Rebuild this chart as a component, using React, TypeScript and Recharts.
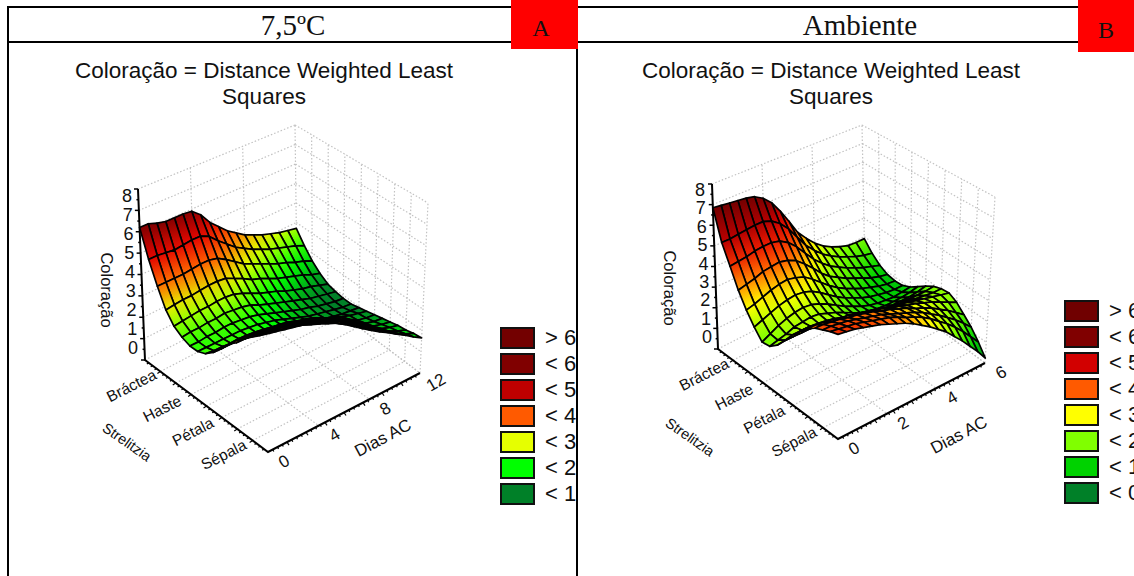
import { ScatterChart, Scatter, XAxis, YAxis } from 'recharts';

// Coloração read off the two surfaces: one row per 1/16 of the structure axis
// (Bráctea first, Sépala last), one column per 1/18 of the days axis.
const surfaceA = [
  [6.2, 6.2, 6.05, 5.95, 5.95, 5.95, 5.9, 5.55, 5.0, 4.6, 4.2, 3.9, 3.6, 3.4, 3.2, 3.05, 2.9, 2.8, 2.7],
  [4.95, 4.95, 4.9, 4.85, 4.9, 4.95, 4.95, 4.75, 4.35, 4.0, 3.65, 3.4, 3.15, 2.95, 2.75, 2.6, 2.45, 2.3, 2.1],
  [3.95, 3.95, 3.95, 3.95, 4.0, 4.05, 4.05, 3.95, 3.7, 3.4, 3.1, 2.9, 2.7, 2.5, 2.3, 2.15, 1.95, 1.8, 1.6],
  [3.1, 3.15, 3.2, 3.2, 3.25, 3.3, 3.3, 3.25, 3.05, 2.85, 2.6, 2.45, 2.25, 2.05, 1.9, 1.75, 1.6, 1.4, 1.25],
  [2.6, 2.65, 2.7, 2.75, 2.75, 2.8, 2.8, 2.75, 2.6, 2.4, 2.2, 2.05, 1.9, 1.7, 1.55, 1.4, 1.3, 1.15, 1.0],
  [2.35, 2.4, 2.4, 2.45, 2.45, 2.5, 2.45, 2.4, 2.3, 2.1, 1.95, 1.8, 1.65, 1.5, 1.35, 1.2, 1.1, 1.0, 0.9],
  [2.2, 2.2, 2.25, 2.25, 2.3, 2.3, 2.25, 2.2, 2.1, 1.95, 1.8, 1.65, 1.5, 1.35, 1.25, 1.1, 1.0, 0.9, 0.85],
  [2.2, 2.2, 2.2, 2.2, 2.2, 2.2, 2.15, 2.1, 2.0, 1.9, 1.75, 1.6, 1.45, 1.3, 1.2, 1.1, 1.0, 0.9, 0.85],
  [2.35, 2.3, 2.3, 2.25, 2.25, 2.2, 2.15, 2.1, 2.0, 1.9, 1.8, 1.65, 1.5, 1.4, 1.25, 1.15, 1.05, 1.0, 0.95],
  [2.65, 2.65, 2.65, 2.65, 2.65, 2.6, 2.55, 2.5, 2.45, 2.35, 2.2, 2.1, 1.95, 1.75, 1.55, 1.4, 1.25, 1.15, 1.05],
  [3.05, 3.1, 3.13, 3.12, 3.08, 3.02, 2.95, 2.87, 2.76, 2.66, 2.55, 2.38, 2.2, 2.0, 1.82, 1.55, 1.3, 1.2, 1.15],
  [3.5, 3.5, 3.49, 3.45, 3.4, 3.32, 3.22, 3.14, 3.05, 2.92, 2.78, 2.62, 2.44, 2.2, 1.96, 1.68, 1.42, 1.3, 1.25],
  [3.8, 3.8, 3.8, 3.75, 3.7, 3.62, 3.53, 3.44, 3.33, 3.18, 3.0, 2.85, 2.67, 2.4, 2.1, 1.8, 1.55, 1.43, 1.35],
  [4.2, 4.16, 4.12, 4.06, 3.99, 3.91, 3.81, 3.69, 3.55, 3.4, 3.23, 3.02, 2.78, 2.5, 2.22, 1.95, 1.7, 1.55, 1.45],
  [4.52, 4.48, 4.43, 4.35, 4.26, 4.18, 4.09, 3.93, 3.77, 3.62, 3.45, 3.18, 2.89, 2.62, 2.36, 2.1, 1.84, 1.65, 1.5],
  [4.81, 4.76, 4.7, 4.62, 4.53, 4.42, 4.3, 4.15, 3.99, 3.78, 3.56, 3.3, 3.02, 2.76, 2.51, 2.25, 2.0, 1.78, 1.6],
  [5.12, 5.05, 4.97, 4.89, 4.82, 4.66, 4.52, 4.36, 4.21, 3.96, 3.69, 3.41, 3.15, 2.9, 2.67, 2.41, 2.17, 1.9, 1.65],
];

const surfaceB = [
  [6.85, 6.8, 6.75, 6.7, 6.65, 6.55, 6.3, 5.9, 5.3, 4.6, 3.85, 3.35, 2.9, 2.55, 2.3, 2.1, 1.95, 1.9, 1.9],
  [5.4, 5.4, 5.45, 5.5, 5.55, 5.55, 5.4, 5.1, 4.65, 4.05, 3.45, 3.0, 2.6, 2.3, 2.05, 1.85, 1.65, 1.5, 1.4],
  [4.5, 4.55, 4.6, 4.7, 4.75, 4.75, 4.65, 4.4, 4.0, 3.5, 3.0, 2.6, 2.25, 2.0, 1.75, 1.55, 1.35, 1.2, 1.05],
  [3.6, 3.7, 3.8, 3.95, 4.0, 4.05, 3.95, 3.75, 3.4, 3.0, 2.55, 2.2, 1.95, 1.7, 1.5, 1.3, 1.1, 0.95, 0.85],
  [2.9, 3.0, 3.15, 3.3, 3.4, 3.45, 3.35, 3.2, 2.9, 2.55, 2.2, 1.9, 1.65, 1.45, 1.25, 1.1, 0.95, 0.85, 0.8],
  [2.35, 2.5, 2.65, 2.8, 2.9, 2.95, 2.9, 2.75, 2.5, 2.2, 1.9, 1.65, 1.45, 1.25, 1.1, 1.0, 0.9, 0.85, 0.85],
  [1.9, 2.1, 2.3, 2.45, 2.55, 2.6, 2.55, 2.4, 2.2, 1.95, 1.7, 1.5, 1.3, 1.15, 1.05, 1.0, 0.95, 1.0, 1.05],
  [1.95, 2.05, 2.15, 2.3, 2.35, 2.4, 2.35, 2.2, 2.05, 1.85, 1.65, 1.45, 1.35, 1.25, 1.2, 1.2, 1.2, 1.25, 1.35],
  [2.25, 2.3, 2.35, 2.4, 2.4, 2.35, 2.3, 2.2, 2.05, 1.9, 1.75, 1.65, 1.55, 1.5, 1.5, 1.5, 1.5, 1.55, 1.65],
  [2.7, 2.7, 2.7, 2.7, 2.65, 2.6, 2.5, 2.4, 2.3, 2.2, 2.05, 1.95, 1.9, 1.85, 1.85, 1.85, 1.85, 1.85, 1.9],
  [3.2, 3.2, 3.15, 3.1, 3.05, 3.0, 2.9, 2.8, 2.7, 2.6, 2.5, 2.4, 2.3, 2.25, 2.2, 2.15, 2.1, 2.05, 2.05],
  [3.6, 3.6, 3.55, 3.5, 3.45, 3.35, 3.3, 3.2, 3.1, 3.0, 2.9, 2.8, 2.7, 2.6, 2.5, 2.4, 2.3, 2.2, 2.1],
  [3.95, 3.95, 3.9, 3.85, 3.75, 3.7, 3.6, 3.5, 3.4, 3.3, 3.15, 3.05, 2.9, 2.8, 2.65, 2.5, 2.3, 2.1, 1.9],
  [4.2, 4.2, 4.15, 4.1, 4.0, 3.95, 3.85, 3.75, 3.6, 3.5, 3.35, 3.2, 3.0, 2.85, 2.65, 2.4, 2.15, 1.85, 1.55],
  [4.35, 4.35, 4.3, 4.25, 4.15, 4.05, 3.95, 3.85, 3.7, 3.55, 3.4, 3.25, 3.05, 2.8, 2.55, 2.25, 1.95, 1.6, 1.2],
  [4.5, 4.45, 4.4, 4.35, 4.25, 4.15, 4.05, 3.95, 3.8, 3.6, 3.45, 3.25, 3.0, 2.7, 2.4, 2.05, 1.65, 1.2, 0.75],
  [4.6, 4.55, 4.5, 4.4, 4.3, 4.2, 4.05, 3.9, 3.75, 3.55, 3.3, 3.05, 2.75, 2.45, 2.05, 1.65, 1.2, 0.75, 0.24],
];

const structures = ['Bráctea', 'Haste', 'Pétala', 'Sépala'];
const zTicks = [0, 1, 2, 3, 4, 5, 6, 7, 8];
const daysA = [0, 4, 8, 12];
const daysB = [0, 2, 4, 6];

const legendA = ['> 6', '< 6', '< 5', '< 4', '< 3', '< 2', '< 1'];
const legendColorsA = ['#730000', '#800000', '#be0000', '#ff5a00', '#e6ff00', '#00ff00', '#008028'];
const legendB = ['> 6', '< 6', '< 5', '< 4', '< 3', '< 2', '< 1', '< 0'];
const legendColorsB = ['#700000', '#800000', '#d20000', '#ff5a00', '#ffff00', '#80ff00', '#00d200', '#008028'];

// colour ramp: value, colour
const rampA: [number, number[]][] = [
  [1, [0, 128, 40]], [2, [0, 255, 0]], [3, [224, 255, 0]], [4, [255, 100, 0]],
  [5, [225, 0, 0]], [6, [130, 0, 0]], [7, [110, 0, 0]],
];
const rampB: [number, number[]][] = [
  [0, [0, 128, 40]], [1, [0, 210, 0]], [2, [128, 255, 0]], [3, [255, 255, 0]], [4, [255, 100, 0]],
  [5, [225, 0, 0]], [6, [130, 0, 0]], [7, [110, 0, 0]],
];

type Pt = [number, number];
type View = {
  L0: Pt; L8: Pt; B0: Pt; B8: Pt; F0: Pt; F8: Pt; R0: Pt; R8: Pt;
  z0: Pt; z8: Pt; dias: Pt; cor: Pt; strel: Pt;
  left: number; top: number; width: number; height: number;
};

// box corners on the page: L = Bráctea/day 0, B = Bráctea/last day, F = Sépala/day 0, R = Sépala/last day
const viewA: View = {
  L0: [145, 360], L8: [138, 189], B0: [297, 281], B8: [295, 125],
  F0: [268, 452], F8: [268, 267], R0: [420, 373], R8: [428, 203],
  z0: [133, 348], z8: [127, 196], dias: [383, 438], cor: [107, 290], strel: [127, 442],
  left: 60, top: 110, width: 400, height: 380,
};
const viewB: View = {
  L0: [718, 349], L8: [712, 184], B0: [865, 274], B8: [862, 125],
  F0: [838, 439], F8: [838, 257], R0: [985, 363], R8: [995, 197],
  z0: [707, 337], z8: [700, 190], dias: [959, 435], cor: [670, 288], strel: [690, 437],
  left: 640, top: 110, width: 390, height: 380,
};

const lerp = (a: number, b: number, k: number) => a + (b - a) * k;
const lerpPt = (a: Pt, b: Pt, k: number): Pt => [lerp(a[0], b[0], k), lerp(a[1], b[1], k)];

// u: 0..1 along days, t: 0..1 from Bráctea to Sépala, z: value on the 0..8 axis
function project(v: View, u: number, t: number, z: number) {
  const low = lerpPt(lerpPt(v.L0, v.B0, u), lerpPt(v.F0, v.R0, u), t);
  const high = lerpPt(lerpPt(v.L8, v.B8, u), lerpPt(v.F8, v.R8, u), t);
  const p = lerpPt(low, high, z / 8);
  return { x: p[0], y: p[1] };
}

function colorAt(ramp: [number, number[]][], z: number) {
  if (z <= ramp[0][0]) return `rgb(${ramp[0][1].join(',')})`;
  for (let i = 1; i < ramp.length; i++) {
    if (z <= ramp[i][0]) {
      const k = (z - ramp[i - 1][0]) / (ramp[i][0] - ramp[i - 1][0]);
      const c = ramp[i][1].map((b, n) => Math.round(lerp(ramp[i - 1][1][n], b, k)));
      return `rgb(${c.join(',')})`;
    }
  }
  return `rgb(${ramp[ramp.length - 1][1].join(',')})`;
}

// far cells first, so the nearer ones paint over them
function buildCells(v: View, surface: number[][], ramp: [number, number[]][], id: string) {
  const rows = surface.length - 1;
  const cols = surface[0].length - 1;
  const cells = [];
  for (let r = 0; r < rows; r++) {
    for (let c = cols - 1; c >= 0; c--) {
      const zs = [surface[r][c], surface[r][c + 1], surface[r + 1][c + 1], surface[r + 1][c]];
      const pts = [
        project(v, c / cols, r / rows, zs[0]),
        project(v, (c + 1) / cols, r / rows, zs[1]),
        project(v, (c + 1) / cols, (r + 1) / rows, zs[2]),
        project(v, c / cols, (r + 1) / rows, zs[3]),
      ];
      const x = (pts[0].x + pts[2].x) / 2;
      const y = (pts[0].y + pts[2].y) / 2;
      cells.push({
        x, y,
        id: `${id}-${r}-${c}`,
        pts: pts.map((p) => [p.x - x, p.y - y]),
        colorTop: colorAt(ramp, (zs[0] + zs[1]) / 2),
        colorBottom: colorAt(ramp, (zs[2] + zs[3]) / 2),
      });
    }
  }
  return cells;
}

function CellShape(props: any) {
  const { cx, cy, payload } = props;
  const p = payload.pts;
  const points = p.map((q: number[]) => `${cx + q[0]},${cy + q[1]}`).join(' ');
  return (
    <g>
      <defs>
        <linearGradient
          id={payload.id}
          gradientUnits="userSpaceOnUse"
          x1={cx + (p[0][0] + p[1][0]) / 2}
          y1={cy + (p[0][1] + p[1][1]) / 2}
          x2={cx + (p[2][0] + p[3][0]) / 2}
          y2={cy + (p[2][1] + p[3][1]) / 2}
        >
          <stop offset="0%" stopColor={payload.colorTop} />
          <stop offset="100%" stopColor={payload.colorBottom} />
        </linearGradient>
      </defs>
      <polygon points={points} fill={`url(#${payload.id})`} stroke="#000" strokeWidth={1.7} strokeLinejoin="round" />
    </g>
  );
}

const NoDot = () => <g />;

function TickShape(props: any) {
  const { cx, cy, payload } = props;
  return <line x1={cx} y1={cy} x2={cx + payload.dx} y2={cy + payload.dy} stroke="#000" strokeWidth={payload.w} />;
}

function LabelShape(props: any) {
  const { cx, cy, payload } = props;
  return (
    <text
      x={cx}
      y={cy}
      textAnchor="middle"
      dominantBaseline="central"
      fontFamily="Liberation Sans"
      fontSize={payload.size}
      fill="#111"
      transform={payload.angle ? `rotate(${payload.angle} ${cx} ${cy})` : undefined}
    >
      {payload.label}
    </text>
  );
}

function wallLines(v: View, days: number[]) {
  const lines: { x: number; y: number }[][] = [];
  zTicks.forEach((z) => {
    lines.push([project(v, 0, 0, z), project(v, 1, 0, z)]);
    lines.push([project(v, 1, 0, z), project(v, 1, 1, z)]);
  });
  days.slice(1).forEach((_, i) => {
    const u = (i + 1) / (days.length - 1);
    lines.push([project(v, u, 0, 0), project(v, u, 0, 8)]);
    lines.push([project(v, u, 0, 0), project(v, u, 1, 0)]);
  });
  for (let k = 1; k <= 8; k++) {
    lines.push([project(v, 1, k / 8, 0), project(v, 1, k / 8, 8)]);
    lines.push([project(v, 0, k / 8, 0), project(v, 1, k / 8, 0)]);
  }
  return lines;
}

function axisTicks(v: View) {
  const ticks = [];
  for (let i = 0; i <= 16; i++) {
    const major = i % 2 === 0;
    ticks.push({ ...project(v, 0, 0, i / 2), dx: major ? -4 : -2, dy: 0, w: 1.5 });
  }
  for (let i = 1; i < 32; i++) {
    const major = i % 4 === 0;
    ticks.push({ ...project(v, 0, i / 32, 0), dx: major ? -3 : -2, dy: major ? 2 : 1, w: 1.2 });
    ticks.push({ ...project(v, i / 32, 1, 0), dx: major ? 2 : 1, dy: major ? 3 : 2, w: 1.2 });
  }
  return ticks;
}

function axisLabels(v: View, days: number[]) {
  const labels: any[] = [];
  zTicks.forEach((z) => {
    const p = lerpPt(v.z0, v.z8, z / 8);
    labels.push({ x: p[0], y: p[1], label: String(z), size: 18, angle: 0 });
  });
  structures.forEach((s, i) => {
    const p = project(v, 0, (2 * i + 1) / 8, 0);
    labels.push({ x: p.x - 29, y: p.y + 14, label: s, size: 15.5, angle: -27 });
  });
  days.forEach((d, i) => {
    const p = project(v, i / (days.length - 1), 1, 0);
    labels.push({ x: p.x + 16, y: p.y + 9.5, label: String(d), size: 17, angle: -30 });
  });
  labels.push({ x: v.dias[0], y: v.dias[1], label: 'Dias AC', size: 17, angle: -28 });
  labels.push({ x: v.cor[0], y: v.cor[1], label: 'Coloração', size: 16.5, angle: 90 });
  labels.push({ x: v.strel[0], y: v.strel[1], label: 'Strelitzia', size: 14.5, angle: 35 });
  return labels;
}

function Surface3D({ view, surface, ramp, days, id }: { view: View; surface: number[][]; ramp: [number, number[]][]; days: number[]; id: string }) {
  const v = view;
  const axes = [
    [project(v, 0, 0, 8), project(v, 0, 0, 0), project(v, 0, 1, 0), project(v, 1, 1, 0)],
  ];
  return (
    <div style={{ position: 'absolute', left: v.left, top: v.top }}>
      <ScatterChart width={v.width} height={v.height} margin={{ top: 0, right: 0, bottom: 0, left: 0 }}>
        <XAxis type="number" dataKey="x" domain={[v.left, v.left + v.width]} hide />
        <YAxis type="number" dataKey="y" domain={[v.top, v.top + v.height]} reversed hide />
        {wallLines(v, days).map((line, i) => (
          <Scatter
            key={i}
            data={line}
            shape={NoDot}
            line={{ stroke: '#c2c2c2', strokeWidth: 1.2, strokeDasharray: '1.5 2' }}
            isAnimationActive={false}
          />
        ))}
        <Scatter data={buildCells(v, surface, ramp, id)} shape={CellShape} isAnimationActive={false} />
        {axes.map((line, i) => (
          <Scatter
            key={`axis${i}`}
            data={line}
            shape={NoDot}
            line={{ stroke: '#000', strokeWidth: 2 }}
            isAnimationActive={false}
          />
        ))}
        <Scatter data={axisTicks(v)} shape={TickShape} isAnimationActive={false} />
        <Scatter data={axisLabels(v, days)} shape={LabelShape} isAnimationActive={false} />
      </ScatterChart>
    </div>
  );
}

function Legend3D({ labels, colors, left, top, right }: { labels: string[]; colors: string[]; left: number; top: number; right: number }) {
  return (
    <div style={{ position: 'absolute', left, top, width: right - left, overflow: 'hidden' }}>
      {labels.map((label, i) => (
        <div key={label + i} style={{ height: 26, position: 'relative', whiteSpace: 'nowrap' }}>
          <div
            style={{
              position: 'absolute', left: 0, top: 0, width: 31, height: 18,
              background: colors[i], border: '2px solid #111',
            }}
          />
          <span
            style={{
              position: 'absolute', left: 45, top: -2, lineHeight: '26px',
              fontFamily: 'Liberation Sans', fontSize: 22, color: '#111',
            }}
          >
            {label}
          </span>
        </div>
      ))}
    </div>
  );
}

const rule = (left: number, top: number, width: number, height: number) => (
  <div style={{ position: 'absolute', left, top, width, height, background: '#000' }} />
);

const caption = (text: string, center: number, top: number) => (
  <div
    style={{
      position: 'absolute', left: center - 250, width: 500, top, textAlign: 'center',
      fontFamily: 'Liberation Sans', fontSize: 22.5, lineHeight: '26px', color: '#111', whiteSpace: 'nowrap',
    }}
  >
    {text}
  </div>
);

const heading = (text: string, center: number) => (
  <div
    style={{
      position: 'absolute', left: center - 150, width: 300, top: 8, textAlign: 'center',
      fontFamily: 'Liberation Serif', fontSize: 29, lineHeight: '34px', color: '#111',
    }}
  >
    {text}
  </div>
);

const badge = (text: string, left: number, width: number, height: number, textCenter: number) => (
  <div style={{ position: 'absolute', left, top: 0, width, height, background: '#ff0000' }}>
    <span
      style={{
        position: 'absolute', left: textCenter - left - 20, width: 40, textAlign: 'center',
        fontFamily: 'Liberation Serif', fontSize: 24, lineHeight: `${height + 8}px`, color: '#111',
      }}
    >
      {text}
    </span>
  </div>
);

export default function App() {
  return (
    <div style={{ position: 'absolute', left: 0, top: 0, width: 1134, height: 576, overflow: 'hidden', background: '#fff' }}>
      {rule(7, 6, 1127, 2)}
      {rule(7, 41, 1127, 2)}
      {rule(7, 6, 2, 570)}
      {rule(576, 6, 2, 570)}
      {heading('7,5ºC', 293)}
      {heading('Ambiente', 860)}
      {badge('A', 511, 67, 49, 541)}
      {badge('B', 1078, 56, 52, 1106)}
      {caption('Coloração = Distance Weighted Least', 264, 58)}
      {caption('Squares', 264, 84)}
      {caption('Coloração = Distance Weighted Least', 831, 58)}
      {caption('Squares', 831, 84)}
      <Surface3D view={viewA} surface={surfaceA} ramp={rampA} days={daysA} id="a" />
      <Surface3D view={viewB} surface={surfaceB} ramp={rampB} days={daysB} id="b" />
      <Legend3D labels={legendA} colors={legendColorsA} left={500} top={327} right={576} />
      <Legend3D labels={legendB} colors={legendColorsB} left={1064} top={300} right={1134} />
    </div>
  );
}
